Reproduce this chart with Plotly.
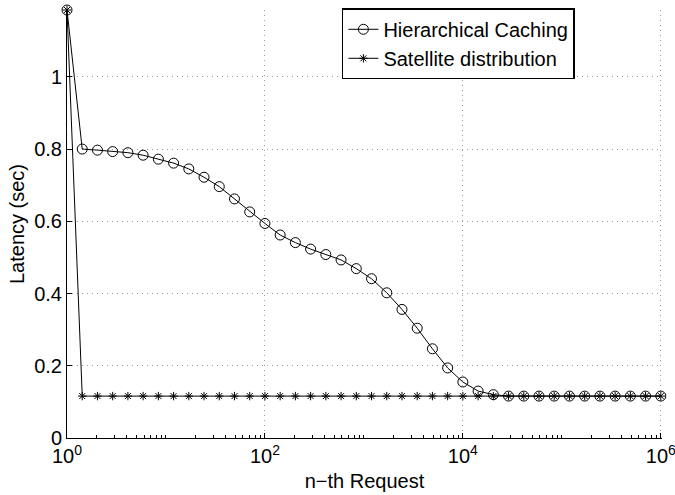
import numpy as np
import plotly.graph_objects as go

# Request index (log-spaced, 40 points from 10^0 to 10^6)
n_request = np.logspace(0, 6, 40)

hier_caching = [1.185, 0.800, 0.797, 0.793, 0.790, 0.783, 0.772, 0.761, 0.745, 0.722,
                0.696, 0.662, 0.626, 0.594, 0.562, 0.541, 0.523, 0.508, 0.493, 0.469,
                0.441, 0.402, 0.356, 0.304, 0.247, 0.194, 0.155, 0.130, 0.120, 0.116,
                0.116, 0.116, 0.116, 0.116, 0.116, 0.116, 0.116, 0.116, 0.116, 0.116]
satellite = [1.185] + [0.116] * 39

x_tick_vals = [1, 100, 1e4, 1e6]
x_tick_text = ["10<sup>0</sup>", "10<sup>2</sup>", "10<sup>4</sup>", "10<sup>6</sup>"]
y_tick_vals = [0, 0.2, 0.4, 0.6, 0.8, 1.0]
y_tick_text = ["0", "0.2", "0.4", "0.6", "0.8", "1"]

FONT = "Liberation Sans, Arial, Helvetica, sans-serif"
GRID = "#9a9a9a"

fig = go.Figure()
fig.add_trace(go.Scatter(
    x=n_request, y=hier_caching, mode="lines+markers", name="Hierarchical Caching",
    line=dict(color="black", width=1), cliponaxis=False,
    marker=dict(symbol="circle-open", size=10, color="black", line=dict(width=1)),
))
fig.add_trace(go.Scatter(
    x=n_request, y=satellite, mode="lines+markers", name="Satellite distribution",
    line=dict(color="black", width=1), cliponaxis=False,
    marker=dict(symbol="asterisk-open", size=7, color="black", line=dict(width=1)),
))

fig.update_layout(
    width=675, height=495,
    margin=dict(l=67, r=13, t=10, b=57, autoexpand=False),
    paper_bgcolor="white", plot_bgcolor="white",
    font=dict(family=FONT, size=20, color="black"),
    showlegend=True,
    legend=dict(
        x=0.462, y=1.004, xanchor="left", yanchor="top",
        bordercolor="black", borderwidth=1.5, bgcolor="white",
        font=dict(size=20), tracegroupgap=0, itemwidth=30,
    ),
)
fig.update_xaxes(
    type="log", range=[0, 6.012], automargin=False,
    tickvals=x_tick_vals, ticktext=x_tick_text, ticklabeloverflow="allow",
    ticks="inside", ticklen=5, tickcolor="black",
    showline=True, linecolor="black", linewidth=1,
    showgrid=True, gridcolor=GRID, griddash="1px,4px", gridwidth=1,
    zeroline=False, mirror=False,
    minor=dict(ticks="inside", ticklen=3, tickcolor="black", dtick="D1", showgrid=False),
    title=dict(text="n\u2212th Request", font=dict(size=20), standoff=7),
    tickfont=dict(size=20),
)
fig.update_yaxes(
    range=[0, 1.185], automargin=False,
    tickvals=y_tick_vals, ticktext=y_tick_text,
    ticks="inside", ticklen=5, tickcolor="black",
    showline=True, linecolor="black", linewidth=1,
    showgrid=True, gridcolor=GRID, griddash="1px,4px", gridwidth=1,
    zeroline=False, mirror=False,
    title=dict(text="Latency (sec)", font=dict(size=20), standoff=4),
    tickfont=dict(size=20),
)

fig.write_html("out.html")
